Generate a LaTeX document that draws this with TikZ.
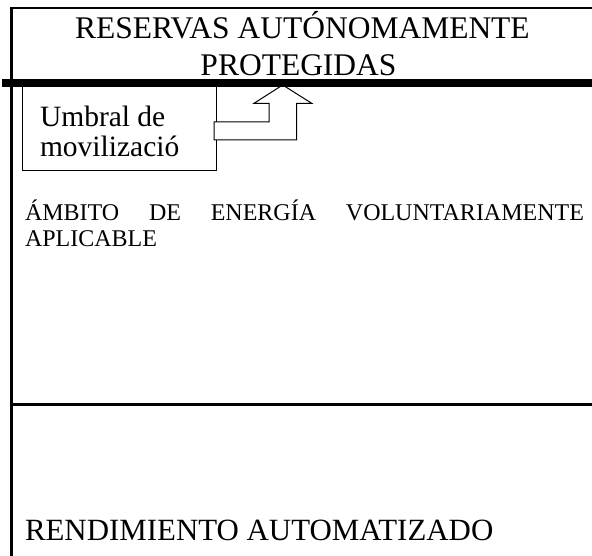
\documentclass[tikz,border=0pt]{standalone}
\usepackage{fontspec}
\setmainfont{Liberation Serif}
\begin{document}
\begin{tikzpicture}[x=1pt,y=-1pt,
  txt/.style={inner sep=0pt,outer sep=0pt,anchor=base west},
  hdr/.style={inner sep=0pt,outer sep=0pt,anchor=base,font=\fontsize{31.5}{36}\selectfont},
  umb/.style={txt,font=\fontsize{29.5}{30}\selectfont},
  amb/.style={txt,font=\fontsize{24}{28}\selectfont},
  ren/.style={txt,font=\fontsize{30.9}{34}\selectfont}]
\useasboundingbox (0,0) rectangle (592,556);
% frame lines
\coordinate (tl) at (10.5,8);
\coordinate (tr) at (592,8);
\coordinate (lt) at (11.5,7);
\coordinate (bl) at (11.5,556);
\coordinate (ml) at (11.5,404.5);
\coordinate (mr) at (592,404.5);
\coordinate (thl) at (2,83);
\coordinate (thr) at (592,83);
\draw[line width=2pt] (tl) -- (tr);
\draw[line width=3pt] (lt) -- (bl);
\draw[line width=3pt] (ml) -- (mr);
% header text
\node[hdr] (h1) at (302.5,39) {RESERVAS AUTÓNOMAMENTE};
\node[hdr] (h2) at (298.5,76) {PROTEGIDAS};
% umbral box
\draw[line width=1pt,fill=white] (22.3,84) rectangle (216.5,170.7);
\node[umb] (u1) at (40,126.7) {Umbral de};
\node[umb] (u2) at (40,156.7) {movilizació};
% bent arrow
\draw[line width=1pt,line join=miter,fill=white]
  (214,122) -- (269,122) -- (269,103.3) -- (254,103.3) -- (282.7,85)
  -- (311.7,103.3) -- (296.7,103.3) -- (296.7,140) -- (214,140) -- cycle;
% thick line
\draw[line width=8pt] (thl) -- (thr);
% ambito text
\node[amb] (a1) at (25,221) {\makebox[559pt][s]{ÁMBITO DE ENERGÍA VOLUNTARIAMENTE}};
\node[amb] (a2) at (25,247) {APLICABLE};
% rendimiento
\node[ren] (r1) at (25,540) {RENDIMIENTO AUTOMATIZADO};
\end{tikzpicture}
\end{document}
